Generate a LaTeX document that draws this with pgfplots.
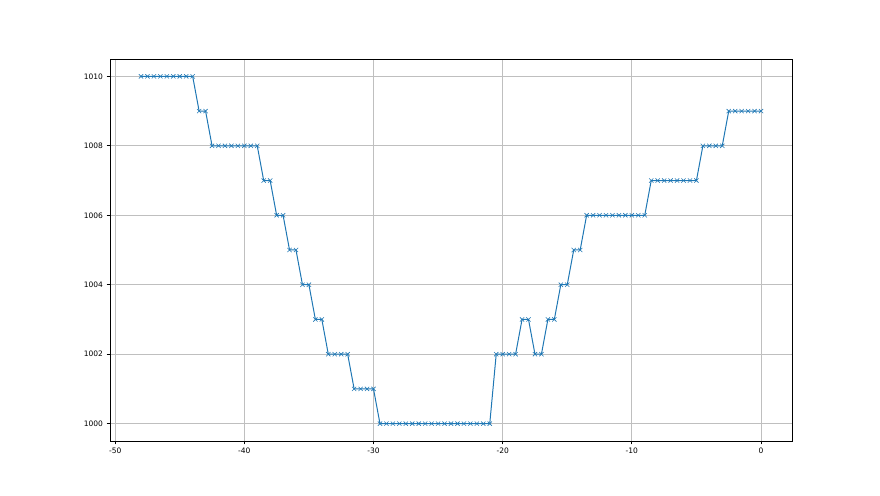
\documentclass[border=0pt]{standalone}
\usepackage{fontspec}
\setmainfont{DejaVu Sans}
\usepackage{pgfplots}
\pgfplotsset{compat=1.18}
\definecolor{mplblue}{HTML}{1F77B4}
\begin{document}
\begin{tikzpicture}
\path[use as bounding box] (0pt,0pt) rectangle (880pt,495pt);
\begin{axis}[
  at={(110pt,54pt)}, anchor=south west,
  scale only axis, width=682pt, height=382pt,
  xmin=-50.4, xmax=2.4, ymin=999.5, ymax=1010.5,
  xtick={-50,-40,-30,-20,-10,0},
  ytick={1000,1002,1004,1006,1008,1010},
  grid=major,
  major grid style={color=black!25, line width=0.8pt},
  tick align=outside, tick pos=left,
  major tick length=3.5pt,
  tick style={black, line width=0.8pt},
  axis line style={line width=0.8pt},
  /pgf/number format/assume math mode=true,
  /pgf/number format/1000 sep={},
  ticklabel style={font=\fontsize{7.5}{9}\selectfont},
  scaled y ticks=false,
]
\addplot[color=mplblue, line width=1pt, mark=x, mark size=3pt, mark options={line width=0.6pt}] coordinates {
(-48,1010)(-47.5,1010)(-47,1010)(-46.5,1010)(-46,1010)(-45.5,1010)(-45,1010)(-44.5,1010)(-44,1010)
(-43.5,1009)(-43,1009)
(-42.5,1008)(-42,1008)(-41.5,1008)(-41,1008)(-40.5,1008)(-40,1008)(-39.5,1008)(-39,1008)
(-38.5,1007)(-38,1007)
(-37.5,1006)(-37,1006)
(-36.5,1005)(-36,1005)
(-35.5,1004)(-35,1004)
(-34.5,1003)(-34,1003)
(-33.5,1002)(-33,1002)(-32.5,1002)(-32,1002)
(-31.5,1001)(-31,1001)(-30.5,1001)(-30,1001)
(-29.5,1000)(-29,1000)(-28.5,1000)(-28,1000)(-27.5,1000)(-27,1000)(-26.5,1000)(-26,1000)(-25.5,1000)
(-25,1000)(-24.5,1000)(-24,1000)(-23.5,1000)(-23,1000)(-22.5,1000)(-22,1000)(-21.5,1000)(-21,1000)
(-20.5,1002)(-20,1002)(-19.5,1002)(-19,1002)
(-18.5,1003)(-18,1003)
(-17.5,1002)(-17,1002)
(-16.5,1003)(-16,1003)
(-15.5,1004)(-15,1004)
(-14.5,1005)(-14,1005)
(-13.5,1006)(-13,1006)(-12.5,1006)(-12,1006)(-11.5,1006)(-11,1006)(-10.5,1006)(-10,1006)(-9.5,1006)(-9,1006)
(-8.5,1007)(-8,1007)(-7.5,1007)(-7,1007)(-6.5,1007)(-6,1007)(-5.5,1007)(-5,1007)
(-4.5,1008)(-4,1008)(-3.5,1008)(-3,1008)
(-2.5,1009)(-2,1009)(-1.5,1009)(-1,1009)(-0.5,1009)(0,1009)
};
\end{axis}
\end{tikzpicture}
\end{document}
